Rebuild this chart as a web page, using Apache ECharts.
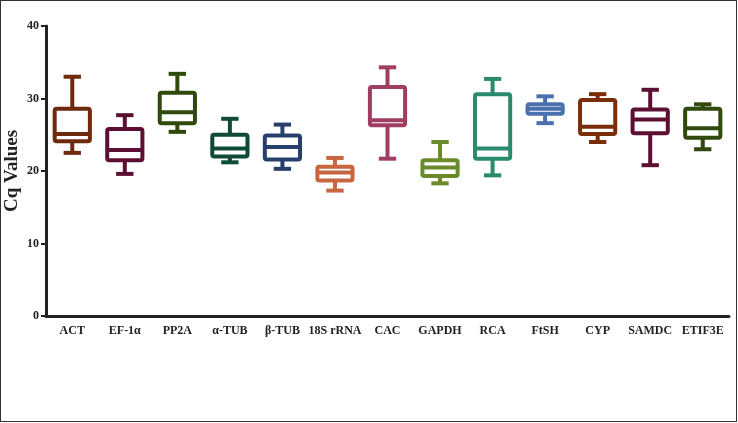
<!DOCTYPE html>
<html>
<head>
<meta charset="utf-8">
<script src="https://cdn.jsdelivr.net/npm/echarts@6/dist/echarts.min.js"></script>
<style>
html,body{margin:0;padding:0;background:#fff;}
#frame{position:absolute;left:0;top:0;width:735px;height:420px;border:1px solid #333;}
#chart{position:absolute;left:0;top:0;width:738px;height:423px;}
</style>
</head>
<body>
<div id="frame"></div>
<div id="chart"></div>
<script>
var categories = ['ACT','EF-1\u03b1','PP2A','\u03b1-TUB','\u03b2-TUB','18S rRNA','CAC','GAPDH','RCA','FtSH','CYP','SAMDC','ETIF3E'];
var whiskerLow = [22.5, 19.6, 25.4, 21.2, 20.3, 17.3, 21.7, 18.3, 19.4, 26.6, 24.0, 20.8, 23.0];
var q1Values   = [24.1, 21.5, 26.6, 22.0, 21.6, 18.7, 26.3, 19.3, 21.7, 27.9, 25.1, 25.2, 24.6];
var medians    = [25.1, 22.9, 28.1, 23.1, 23.3, 19.8, 27.0, 20.5, 23.1, 28.6, 26.1, 27.1, 25.9];
var q3Values   = [28.6, 25.8, 30.8, 25.0, 24.9, 20.6, 31.6, 21.5, 30.6, 29.2, 29.8, 28.5, 28.6];
var whiskerHigh= [33.0, 27.7, 33.4, 27.2, 26.4, 21.8, 34.3, 24.0, 32.7, 30.3, 30.6, 31.2, 29.2];
var boxColors = ['#6e2a0c','#5c0f33','#2f4a0c','#0e4a34','#27406a','#c8663f','#a03d63','#6b8a2a','#2a8a6d','#4a71ad','#7a2e08','#5c0f33','#2f4a0c'];

var data = categories.map(function(c, i){
  return [i, whiskerLow[i], q1Values[i], medians[i], q3Values[i], whiskerHigh[i]];
});

var chart = echarts.init(document.getElementById('chart'));
chart.setOption({
  animation: false,
  grid: {left: 46, right: 9, top: 26, bottom: 107, containLabel: false, outerBoundsMode: 'none'},
  xAxis: {
    type: 'category',
    data: categories,
    boundaryGap: true,
    axisLine: {lineStyle: {color: '#222', width: 3}},
    axisTick: {alignWithLabel: true, length: 4, lineStyle: {color: '#222', width: 2}},
    axisLabel: {interval: 0, margin: 9, color: '#222', fontFamily: 'Liberation Serif', fontWeight: 'bold', fontSize: 12},
    splitLine: {show: false}
  },
  yAxis: {
    type: 'value',
    min: 0, max: 40, interval: 10,
    name: 'Cq Values',
    nameLocation: 'middle',
    nameGap: 24,
    nameMoveOverlap: false,
    nameRotate: 90,
    nameTextStyle: {color: '#222', fontFamily: 'Liberation Serif', fontWeight: 'bold', fontSize: 19},
    axisLine: {show: true, lineStyle: {color: '#222', width: 3}},
    axisTick: {show: true, length: 5, lineStyle: {color: '#222', width: 2}},
    axisLabel: {margin: 7, color: '#222', fontFamily: 'Liberation Serif', fontWeight: 'bold', fontSize: 12},
    splitLine: {show: false}
  },
  series: [{
    type: 'custom',
    data: data,
    encode: {x: 0, y: [1,2,3,4,5]},
    renderItem: function(params, api){
      var idx = api.value(0);
      var band = api.size([1, 0])[0];
      var bw = band * 0.67;
      var cw = band * 0.33;
      var pLow = api.coord([idx, api.value(1)]);
      var pQ1 = api.coord([idx, api.value(2)]);
      var pMed = api.coord([idx, api.value(3)]);
      var pQ3 = api.coord([idx, api.value(4)]);
      var pHigh = api.coord([idx, api.value(5)]);
      var cx = pMed[0];
      var col = boxColors[idx];
      var st = {stroke: col, lineWidth: 4, fill: null, lineJoin: 'round', lineCap: 'butt'};
      return {
        type: 'group',
        children: [
          {type: 'line', shape: {x1: cx, y1: pHigh[1], x2: cx, y2: pQ3[1]}, style: st},
          {type: 'line', shape: {x1: cx, y1: pLow[1], x2: cx, y2: pQ1[1]}, style: st},
          {type: 'line', shape: {x1: cx - cw/2, y1: pHigh[1], x2: cx + cw/2, y2: pHigh[1]}, style: st},
          {type: 'line', shape: {x1: cx - cw/2, y1: pLow[1], x2: cx + cw/2, y2: pLow[1]}, style: st},
          {type: 'rect', shape: {x: cx - bw/2, y: pQ3[1], width: bw, height: pQ1[1] - pQ3[1], r: 2}, style: {stroke: col, lineWidth: 4, fill: '#fff', lineJoin: 'round'}},
          {type: 'line', shape: {x1: cx - bw/2, y1: pMed[1], x2: cx + bw/2, y2: pMed[1]}, style: st}
        ]
      };
    }
  }]
});
</script>
</body>
</html>
